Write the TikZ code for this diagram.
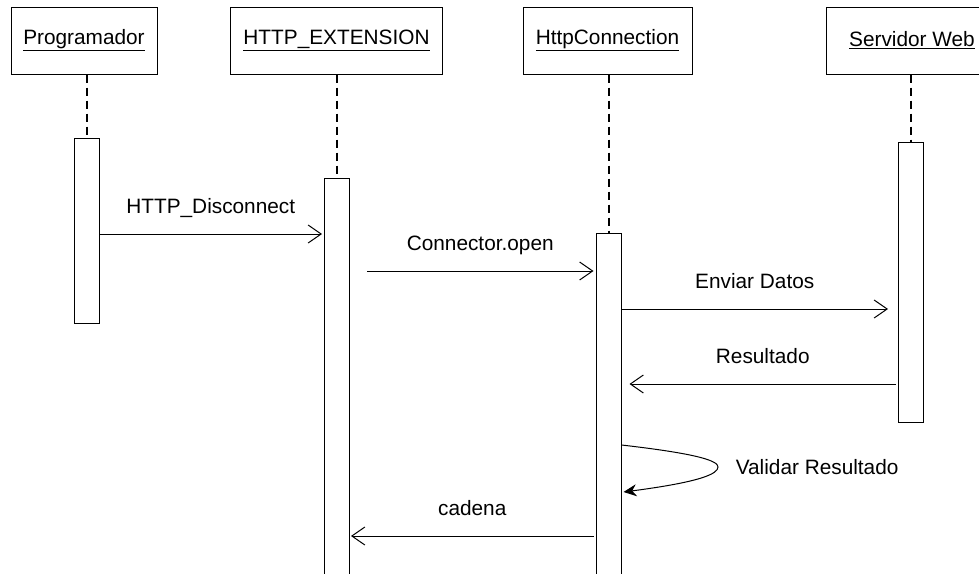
\documentclass[tikz,border=0pt]{standalone}
\usepackage{fontspec}
\setmainfont{Liberation Sans}
\usetikzlibrary{arrows.meta}

\begin{document}
\begin{tikzpicture}[x=1pt,y=-1pt,font=\fontsize{20.8}{25}\selectfont,line width=1pt,
    actor/.style={draw,minimum height=67pt,inner sep=0pt},
    activ/.style={draw,fill=white,minimum width=25pt,anchor=north,inner sep=0pt},
    life/.style={line width=2pt,dash pattern=on 8pt off 5pt},
    msg/.style={-{Straight Barb[length=13pt,width=18pt]}},
    lbl/.style={anchor=base,yshift=21pt}]
  \clip (0,0) rectangle (979,573);
  % objetos
  \node[actor,minimum width=146pt] (prog) at (84,40.5) {\underline{Programador}};
  \node[actor,minimum width=212pt] (ext) at (336.5,40.5) {\underline{HTTP\_EXTENSION}};
  \node[actor,minimum width=169pt] (conn) at (607.5,40.5) {\underline{HttpConnection}};
  \node[actor,minimum width=172pt] (web) at (912,40.5) {\underline{Servidor Web}};
  % activaciones
  \node[activ,minimum height=185pt] (a1) at (86.5,138) {};
  \node[activ,minimum height=420pt] (a2) at (337,178) {};
  \node[activ,minimum height=420pt] (a3) at (608.5,233) {};
  \node[activ,minimum height=280pt] (a4) at (911,142) {};
  \foreach \o/\a in {prog/a1,ext/a2,conn/a3,web/a4}
    \draw[life] (\a.north |- \o.south) -- (\a.north);
  % mensajes
  \draw[msg] (a1.east |- 0,234) -- ([xshift=-2pt]a2.west |- 0,234)
    node[midway,lbl] (m1) {HTTP\_Disconnect};
  \draw[msg] (367,271) -- ([xshift=-2pt]a3.west |- 0,271)
    node[midway,lbl] (m2) {Connector.open};
  \draw[msg] (a3.east |- 0,309) -- ([xshift=-10pt]a4.west |- 0,309)
    node[midway,lbl] (m3) {Enviar Datos};
  \draw[msg] ([xshift=-2pt]a4.west |- 0,384) -- ([xshift=8pt]a3.east |- 0,384)
    node[midway,lbl] (m4) {Resultado};
  \draw[-{Stealth[length=13pt,width=12pt]}] (a3.east |- 0,445)
    .. controls (700,454) and (718,461) .. (718,467)
    .. controls (718,474) and (700,482) .. ([xshift=2pt]a3.east |- 0,492);
  \node[anchor=west] (m5) at (732,467) {Validar Resultado};
  \draw[msg] ([xshift=-2pt]a3.west |- 0,536) -- ([xshift=1pt]a2.east |- 0,536)
    node[midway,lbl] (m6) {cadena};
\end{tikzpicture}
\end{document}
